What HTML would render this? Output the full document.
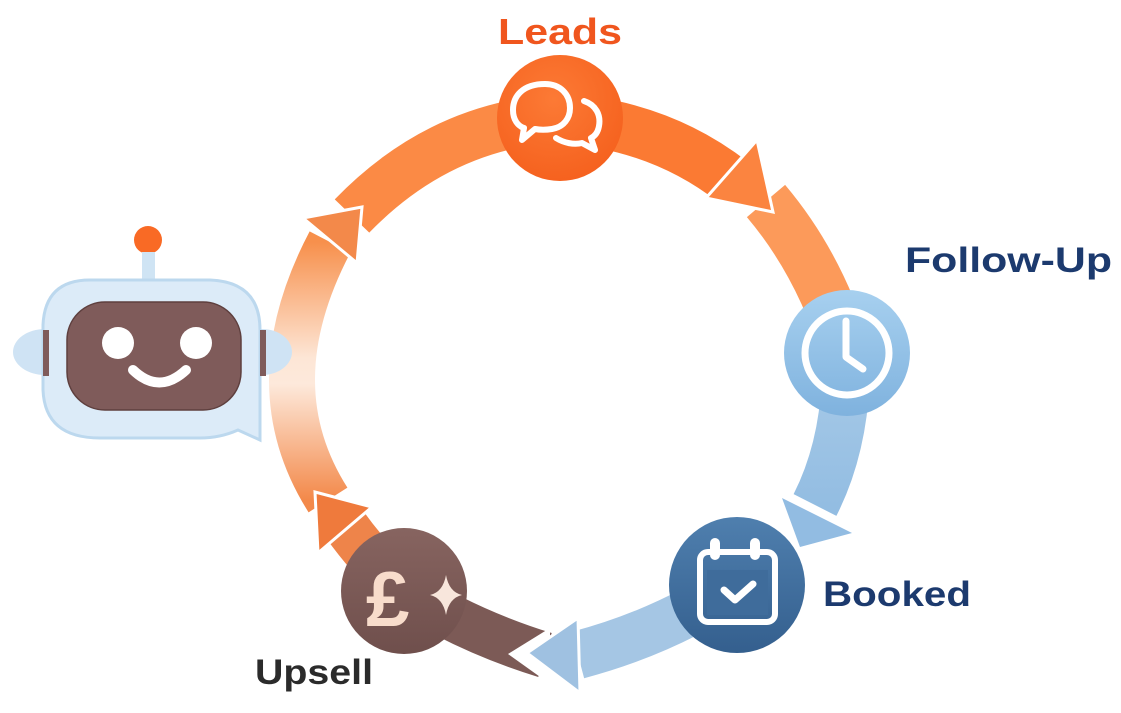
<!DOCTYPE html>
<html><head><meta charset="utf-8"><style>
html,body{margin:0;padding:0;background:#fff;}
svg{display:block;}
text{font-family:"Liberation Sans",sans-serif;font-weight:bold;}
</style></head><body>
<svg width="1121" height="713" viewBox="0 0 1121 713" xmlns="http://www.w3.org/2000/svg">
<defs>
<linearGradient id="gl" x1="0" y1="0" x2="0" y2="1">
<stop offset="0" stop-color="#f7904c"/>
<stop offset="0.45" stop-color="#fde6d6"/>
<stop offset="0.55" stop-color="#fde9db"/>
<stop offset="1" stop-color="#f3894a"/>
</linearGradient>
<linearGradient id="gblue" x1="0" y1="0" x2="0" y2="1">
<stop offset="0" stop-color="#a9cbe8"/><stop offset="1" stop-color="#93bde2"/>
</linearGradient>
<radialGradient id="gLeads" cx="0.45" cy="0.35" r="0.7">
<stop offset="0" stop-color="#fc7a35"/><stop offset="1" stop-color="#f5601d"/>
</radialGradient>
<linearGradient id="gClock" x1="0" y1="0" x2="0" y2="1">
<stop offset="0" stop-color="#a7d0ef"/><stop offset="1" stop-color="#7fb2de"/>
</linearGradient>
<linearGradient id="gCal" x1="0" y1="0" x2="0" y2="1">
<stop offset="0" stop-color="#4f7fae"/><stop offset="1" stop-color="#345f8e"/>
</linearGradient>
<linearGradient id="gPound" x1="0" y1="0" x2="0" y2="1">
<stop offset="0" stop-color="#876460"/><stop offset="1" stop-color="#6f4f4c"/>
</linearGradient>
</defs>

<!-- B (after Leads head) -->
<path d="M766,201 Q820,265 846,352" fill="none" stroke="#fc9a5a" stroke-width="50"/>
<!-- A -->
<path d="M560,118 Q660,125 733,182" fill="none" stroke="#fb7a33" stroke-width="50"/>
<polygon points="706,198 757,140 773,212" fill="#fb8440" stroke="#fff" stroke-width="3" stroke-linejoin="miter"/>

<!-- C -->
<path d="M846,352 Q848,440 815,505" fill="none" stroke="url(#gblue)" stroke-width="48"/>
<polygon points="782,498 852,533 800,547" fill="#92bce2"/>

<!-- E brown -->
<path d="M404,591 Q470,632 545,655" fill="none" stroke="#7c5a56" stroke-width="46"/>
<polygon points="550,628 508,654 550,684" fill="#fff"/>
<!-- D blue -->
<path d="M737,584 Q665,632 578,655" fill="none" stroke="#a5c6e4" stroke-width="48"/>
<polygon points="578,618 527,653 580,693" fill="#9fc1e1" stroke="#fff" stroke-width="3"/>

<!-- H -->
<path d="M352,216 Q440,125 560,118" fill="none" stroke="#fb8a45" stroke-width="48"/>
<!-- G -->
<path d="M328,500 Q255,385 330,242" fill="none" stroke="url(#gl)" stroke-width="46"/>
<polygon points="303,218 357,263 362,207" fill="#f3894a" stroke="#fff" stroke-width="3"/>

<!-- F -->
<path d="M404,591 Q370,560 345,525" fill="none" stroke="#ee844a" stroke-width="46"/>
<polygon points="318,553 372,507 315,492" fill="#ef7a3c" stroke="#fff" stroke-width="3"/>

<!-- Nodes -->
<circle cx="560" cy="118" r="63" fill="url(#gLeads)"/>
<g fill="none" stroke="#fff" stroke-width="6" stroke-linejoin="round" stroke-linecap="round">
<path d="M545,84 C523,84 513,96 513,110 C513,120 518,126 524,128 L522,140 L535,129 C540,130 546,130 552,129 C564,127 570,118 570,108 C570,94 560,84 545,84 Z"/>
<path d="M584,101 C596,105 601,115 599,126 C598,132 595,136 591,138 L595,150 L582,143 C574,145 564,143 556,138"/>
</g>

<circle cx="847" cy="353" r="63" fill="url(#gClock)"/>
<circle cx="847" cy="353" r="42" fill="none" stroke="#fff" stroke-width="7"/>
<path d="M846,321 L846,357 L863,369" fill="none" stroke="#fff" stroke-width="7" stroke-linecap="round" stroke-linejoin="round"/>

<circle cx="737" cy="585" r="68" fill="url(#gCal)"/>
<rect x="700" y="552" width="75" height="70" rx="8" fill="none" stroke="#fff" stroke-width="6"/>
<rect x="707" y="570" width="61" height="45" fill="#3f6c9b"/>
<rect x="710" y="538" width="10" height="22" rx="5" fill="#fff"/>
<rect x="750" y="538" width="10" height="22" rx="5" fill="#fff"/>
<path d="M724,590 L735,600 L753,584" fill="none" stroke="#fff" stroke-width="7" stroke-linecap="round" stroke-linejoin="round"/>

<circle cx="404" cy="591" r="63" fill="url(#gPound)"/>
<text x="366" y="626" font-size="78" fill="#f8dccb">£</text>
<path d="M446,575 Q449,592 462,595 Q449,598 446,615 Q443,598 430,595 Q443,592 446,575 Z" fill="#f8e6dc"/>

<!-- Robot -->
<circle cx="148" cy="240" r="14" fill="#f96a25"/>
<rect x="142" y="252" width="13" height="30" fill="#cfe4f4"/>
<ellipse cx="45" cy="352" rx="32" ry="23" fill="#cfe3f4"/>
<ellipse cx="262" cy="352" rx="30" ry="23" fill="#cfe3f4"/>
<path d="M90,280 L210,280 Q260,282 260,330 L260,440 L238,430 Q220,438 200,438 L100,438 Q45,438 43,390 L43,325 Q45,280 90,280 Z" fill="#dcebf8" stroke="#bcd8ee" stroke-width="3"/>
<rect x="43" y="330" width="6" height="46" fill="#7f5b5a"/>
<rect x="260" y="330" width="6" height="46" fill="#7f5b5a"/>
<rect x="67" y="302" width="174" height="108" rx="38" fill="#7f5b5a" stroke="#5e3f3e" stroke-width="1.5"/>
<circle cx="118" cy="343" r="16" fill="#fff"/>
<circle cx="196" cy="343" r="16" fill="#fff"/>
<path d="M133,370 Q159,395 186,370" fill="none" stroke="#fff" stroke-width="10" stroke-linecap="round"/>

<!-- Labels -->
<text x="498" y="44" font-size="36" fill="#f0561e" textLength="124" lengthAdjust="spacingAndGlyphs">Leads</text>
<text x="905" y="272" font-size="35" fill="#1c3a6e" textLength="207" lengthAdjust="spacingAndGlyphs">Follow-Up</text>
<text x="823" y="606" font-size="35" fill="#1c3a6e" textLength="148" lengthAdjust="spacingAndGlyphs">Booked</text>
<text x="255" y="684" font-size="35" fill="#2b2b2b" textLength="118" lengthAdjust="spacingAndGlyphs">Upsell</text>
</svg>
</body></html>
